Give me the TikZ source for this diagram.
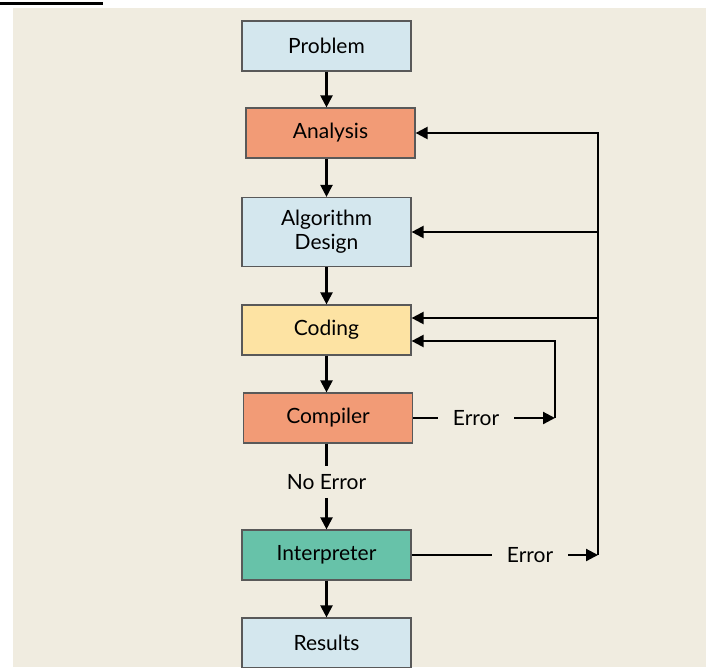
\documentclass[tikz,border=0pt]{standalone}
\usepackage{fontspec}
\setmainfont{Lato}
\usetikzlibrary{calc,arrows.meta}
\definecolor{haikei}{HTML}{F0ECE0}
\definecolor{aoiro}{HTML}{D4E7EE}
\definecolor{sake}{HTML}{F29B76}
\definecolor{kiiro}{HTML}{FDE3A3}
\definecolor{midori}{HTML}{67C2A9}

\begin{document}
\begin{tikzpicture}[x=1pt,y=-1pt,
    box/.style={draw=black!65,line width=1.2pt,minimum width=169pt,minimum height=50pt,
      align=center,font=\fontsize{21}{24}\selectfont},
    lbl/.style={inner xsep=15pt,inner ysep=8pt,font=\fontsize{21}{24}\selectfont},
    ln/.style={line width=2.2pt},
    arr/.style={line width=2.2pt,-{Triangle[length=12pt,width=12pt]}}]
       \useasboundingbox(0,0)rectangle(706,667);%全体
       \fill[black](0,2)rectangle(103,5);%左上の線
       \fill[haikei](13,8)rectangle(706,667);%背景

       \node[box,fill=aoiro](prob)at(326.5,46){Problem};%問題
       \node[box,fill=sake](ana)at(330.5,133){Analysis};%分析
       \node[box,fill=aoiro,minimum height=69pt](algo)at(326.5,232){Algorithm\\Design};%設計
       \node[box,fill=kiiro](cod)at(326.5,330){Coding};%コーディング
       \node[box,fill=sake](comp)at(328,418){Compiler};%コンパイラ
       \node[box,fill=midori](interp)at(326.5,555){Interpreter};%インタプリタ
       \node[box,fill=aoiro](res)at(326.5,643){Results};%結果

       \node[lbl](noerr)at(326.5,482){No Error};%エラーなし
       \node[lbl](err1)at(476,418){Error};%コンパイルエラー
       \node[lbl](err2)at(530,555){Error};%実行エラー
       \coordinate(kado1)at(555,418);%右の角1
       \coordinate(kado2)at(598,555);%右の角2
       \coordinate(cod1)at([yshift=12pt]cod.east);%Coding上
       \coordinate(cod2)at([yshift=-11pt]cod.east);%Coding下

       \draw[arr](prob.south)--(prob.south|-ana.north);%下向き矢印
       \draw[arr](ana.south-|prob.south)--(prob.south|-algo.north);
       \draw[arr](algo.south)--(algo.south|-cod.north);
       \draw[arr](cod.south)--(cod.south|-comp.north);
       \draw[ln](comp.south-|cod.south)--(cod.south|-noerr.north);
       \draw[arr](noerr.south)--(noerr.south|-interp.north);
       \draw[arr](interp.south)--(interp.south|-res.north);

       \draw[ln](comp.east)--(err1.west);%コンパイラ→Coding
       \draw[arr](err1.east)--(kado1);
       \draw[arr](kado1)|-(cod2);

       \draw[ln](interp.east)--(err2.west);%インタプリタ→上流
       \draw[arr](err2.east)--(kado2);
       \draw[arr](kado2)|-(ana.east);
       \draw[arr](kado2|-algo.east)--(algo.east);
       \draw[arr](kado2|-cod1)--(cod1);
\end{tikzpicture}
\end{document}
